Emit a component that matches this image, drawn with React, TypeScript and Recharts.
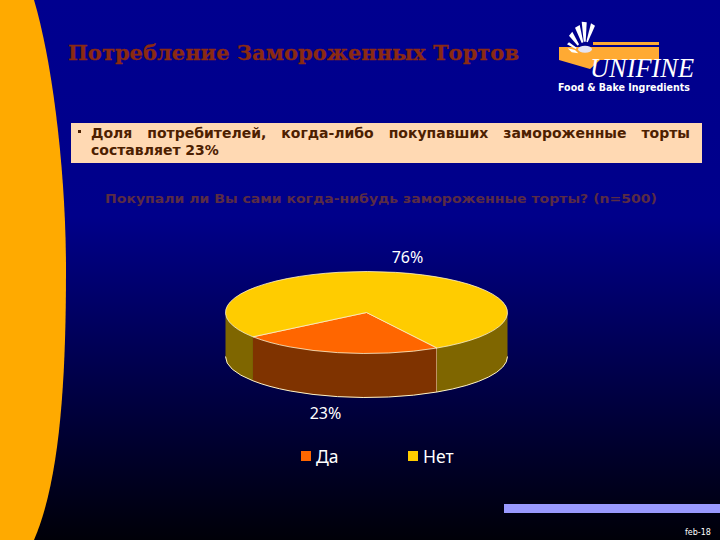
import React from "react";
import { PieChart, Pie, Cell, Legend } from "recharts";

const categories = ["Да", "Нет"];
const shares = [23, 76];
const topColors = ["#ff6600", "#ffcc00"];
const wallColors = ["#7f3300", "#7f6600"];
const bulletFirst = "Доля потребителей, когда-либо покупавших замороженные торты";
const bulletSecond = "составляет 23%";
const rows = categories.map((name, i) => ({ name, value: shares[i] }));

const SQUASH = 41 / 141;
const DEPTH = 44;
const EDGE = "#fff4c8";
const rad = Math.PI / 180;

function pt(cx: number, cy: number, r: number, a: number, dy = 0) {
  return [cx + r * Math.cos(a * rad), cy - r * SQUASH * Math.sin(a * rad) + dy];
}

function arcPath(cx: number, cy: number, r: number, a0: number, a1: number, dy = 0, move = true) {
  const [x0, y0] = pt(cx, cy, r, a0, dy);
  const [x1, y1] = pt(cx, cy, r, a1, dy);
  const large = Math.abs(a1 - a0) > 180 ? 1 : 0;
  const sweep = a1 < a0 ? 1 : 0;
  return `${move ? `M${x0} ${y0}` : `L${x0} ${y0}`}A${r} ${r * SQUASH} 0 ${large} ${sweep} ${x1} ${y1}`;
}

// visible front part of the rim lies between -180 and 0 degrees
function frontRanges(start: number, end: number) {
  const out: [number, number][] = [];
  for (const k of [0, -360]) {
    const a0 = Math.min(start, 0 + k);
    const a1 = Math.max(end, -180 + k);
    if (a0 > a1) out.push([a0, a1]);
  }
  return out;
}

function Slice3D(props: any) {
  const { cx, cy, outerRadius: r, startAngle, endAngle, fill, index } = props;
  const walls = frontRanges(startAngle, endAngle);
  const top = `M${cx} ${cy}L${pt(cx, cy, r, startAngle).join(" ")}${arcPath(cx, cy, r, startAngle, endAngle, 0, false).replace(/^L[^A]*/, "")}Z`;
  return (
    <g>
      {walls.map(([a0, a1], i) => {
        const low = pt(cx, cy, r, a1, DEPTH);
        const d = `${arcPath(cx, cy, r, a0, a1)}L${low.join(" ")}${arcPath(cx, cy, r, a1, a0, DEPTH, false).replace(/^L[^A]*/, "")}Z`;
        return (
          <g key={i}>
            <path d={d} fill={wallColors[index]} stroke="none" />
            <path d={arcPath(cx, cy, r, a0, a1, DEPTH)} fill="none" stroke={EDGE} strokeWidth={1} />
          </g>
        );
      })}
      <path d={top} fill={fill} stroke={EDGE} strokeWidth={0.8} />
      {index === 0 && (
        <line
          x1={pt(cx, cy, r, startAngle)[0]}
          y1={pt(cx, cy, r, startAngle)[1]}
          x2={pt(cx, cy, r, startAngle)[0]}
          y2={pt(cx, cy, r, startAngle, DEPTH)[1]}
          stroke={EDGE}
          strokeWidth={1}
        />
      )}
    </g>
  );
}

function SliceLabel(props: any) {
  const { cx, cy, outerRadius: r, midAngle, value } = props;
  const s = Math.sin(midAngle * rad);
  const x = cx + r * 1.42 * Math.cos(midAngle * rad);
  const y = cy - r * SQUASH * s + (s < 0 ? DEPTH + 16 : -15);
  return (
    <text x={x} y={y} fill="#ffffff" fontFamily="'Noto Sans'" fontSize={16} textAnchor="middle" dominantBaseline="central">
      {value}%
    </text>
  );
}

function LegendRow({ payload }: any) {
  return (
    <div style={{ position: "relative", height: 24, width: 200 }}>
      {(payload || []).map((p: any, i: number) => (
        <div key={p.value} style={{ position: "absolute", left: i * 107, top: 0, display: "flex", alignItems: "center", height: 24 }}>
          <span style={{ width: 10, height: 10, background: topColors[i], display: "inline-block", marginRight: 5 }} />
          <span style={{ color: "#ffffff", fontFamily: "'Noto Sans'", fontSize: 17.5, lineHeight: "24px" }}>{p.value}</span>
        </div>
      ))}
    </div>
  );
}

export default function App() {
  return (
    <div style={{ position: "absolute", left: 0, top: 0, width: 720, height: 540, overflow: "hidden" }}>
      <svg width={720} height={540} style={{ position: "absolute", left: 0, top: 0 }}>
        <defs>
          <linearGradient id="bg" x1="0" y1="0" x2="0" y2="1">
            <stop offset="0" stopColor="#00008f" />
            <stop offset="0.4" stopColor="#00008a" />
            <stop offset="1" stopColor="#000008" />
          </linearGradient>
        </defs>
        <rect width={720} height={540} fill="url(#bg)" />
        <path d="M0 0H34C52 60 66 170 66 270C66 380 60 480 34 540H0Z" fill="#ffaa00" />
        <text x={68} y={60} fontFamily="'DejaVu Serif'" fontWeight="bold" fontSize={20} fill="#8a2a12" stroke="#8a2a12" strokeWidth={0.3} textLength={451} lengthAdjust="spacingAndGlyphs">
          Потребление Замороженных Тортов
        </text>
        <rect x={593} y={42} width={66} height={3} fill="#ffaa33" />
        <path d="M559 47H659V60H600L590 69L559 60Z" fill="#ffaa33" />
        <g fill="#ffffff">
          <path d="M581.7 21.7L586.7 22.3L585.7 41.7L583.7 41.7Z" />
          <path d="M591 23.3L595 25.7L587.7 42.3L586.3 41.7Z" />
          <path d="M575 27.7L579.7 25L583.3 42.3L581.7 43Z" />
          <path d="M569 35.7L572.3 31.7L579 44.3L577.7 45.7Z" />
          <path d="M567 44.3L569 42.3L576.7 47.7L575.7 49Z" />
          <path d="M567.7 48.3L575 50L578.3 53.3L571.7 52.3Z" />
          <ellipse cx={585} cy={49.3} rx={7} ry={3.5} fill="#e4e4f4" />
        </g>
        <text x={590} y={77} fontFamily="'Liberation Serif'" fontStyle="italic" fontSize={27} fill="#ffffff" textLength={104} lengthAdjust="spacingAndGlyphs">
          UNIFINE
        </text>
        <text x={558} y={91} fontFamily="'DejaVu Sans'" fontWeight="bold" fontSize={10} fill="#ffffff" textLength={132} lengthAdjust="spacingAndGlyphs">
          Food &amp; Bake Ingredients
        </text>
        <rect x={71} y={123} width={631} height={40} fill="#ffd9b3" />
        <rect x={78} y={130} width={3} height={3} fill="#4d2000" />
        <text x={105} y={203} fontFamily="'DejaVu Sans'" fontWeight="bold" fontSize={13} fill="#5a2c44" textLength={552} lengthAdjust="spacingAndGlyphs">
          Покупали ли Вы сами когда-нибудь замороженные торты? (n=500)
        </text>
        <rect x={504} y={504} width={216} height={9} fill="#9999ff" />
        <text x={685} y={535} fontFamily="'DejaVu Sans'" fontSize={8} fill="#ffffff">feb-18</text>
      </svg>
      <div
        style={{
          position: "absolute",
          left: 91,
          top: 125,
          width: 599,
          fontFamily: "'DejaVu Sans'",
          fontWeight: "bold",
          fontSize: 14,
          lineHeight: "17px",
          color: "#4d2000",
        }}
      >
        <div style={{ textAlign: "justify", textAlignLast: "justify" }}>{bulletFirst}</div>
        <div>{bulletSecond}</div>
      </div>
      <div style={{ position: "absolute", left: 0, top: 0 }}>
        <PieChart width={720} height={540} margin={{ top: 0, right: 0, bottom: 0, left: 0 }}>
          <Pie
            data={rows}
            dataKey="value"
            nameKey="name"
            cx={366.5}
            cy={312.5}
            innerRadius={0}
            outerRadius={141}
            startAngle={-60}
            endAngle={-420}
            paddingAngle={0}
            isAnimationActive={false}
            shape={Slice3D}
            inactiveShape={Slice3D}
            label={SliceLabel}
            labelLine={false}
            stroke="none"
          >
            {rows.map((r, i) => (
              <Cell key={r.name} fill={topColors[i]} />
            ))}
          </Pie>
          <Legend content={LegendRow} layout="horizontal" verticalAlign="middle" align="center" wrapperStyle={{ left: 301, top: 444, width: 200 }} />
        </PieChart>
      </div>
    </div>
  );
}
